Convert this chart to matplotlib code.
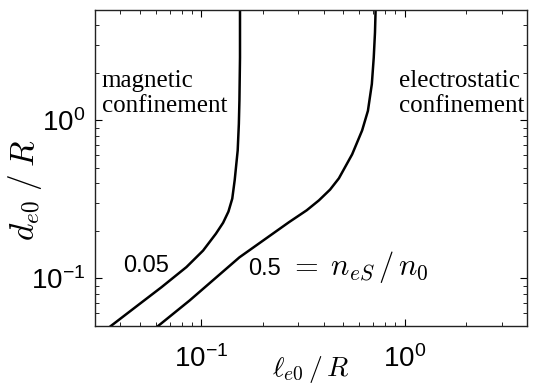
import matplotlib
matplotlib.use('Agg')
import matplotlib.pyplot as plt

# curve n_eS/n0 = 0.05
x_005 = [0.0359, 0.0499, 0.0637, 0.0845, 0.102, 0.118, 0.128, 0.136, 0.142, 0.146,
         0.151, 0.153, 0.154, 0.155, 0.155]
y_005 = [0.05, 0.0692, 0.088, 0.118, 0.150, 0.192, 0.225, 0.265, 0.32, 0.42,
         0.646, 0.95, 1.34, 2.5, 5.0]

# curve n_eS/n0 = 0.5
x_05 = [0.0613, 0.0877, 0.154, 0.270, 0.33, 0.379, 0.43, 0.475, 0.552, 0.618,
        0.660, 0.690, 0.705, 0.715, 0.72]
y_05 = [0.05, 0.0726, 0.136, 0.227, 0.27, 0.312, 0.365, 0.43, 0.61, 0.864,
        1.15, 1.7, 2.5, 3.6, 5.0]

plt.rcParams['font.family'] = ['Liberation Sans', 'DejaVu Sans']
plt.rcParams['mathtext.fontset'] = 'cm'

fig = plt.figure(figsize=(5.34, 3.86), dpi=100)
ax = fig.add_axes([95/534, 1 - 326/386, 432/534, 316/386])

ax.plot(x_005, y_005, color='black', lw=1.8)
ax.plot(x_05, y_05, color='black', lw=1.8)

ax.set_xscale('log')
ax.set_yscale('log')
ax.set_xlim(0.03, 4.0)
ax.set_ylim(0.05, 5.0)

ax.tick_params(which='both', direction='in', top=True, right=True, labelsize=20)
ax.tick_params(which='major', length=5, width=0.8)
ax.tick_params(which='minor', length=3, width=0.6)
ax.tick_params(axis='x', pad=14)
ax.tick_params(axis='y', pad=7)
for s in ax.spines.values():
    s.set_linewidth(1.0)
    s.set_color('#222222')

ax.set_xlabel(r'$\ell_{e0}\,/\,R$', fontsize=20)
ax.set_ylabel(r'$d_{e0}\;/\;R$', fontsize=24)
ax.xaxis.set_label_coords(0.5, -0.09)
ax.yaxis.set_label_coords(-0.118, 0.43)

serif = ['Liberation Serif', 'DejaVu Serif']
ax.text(0.0155, 0.735, 'magnetic\nconfinement', transform=ax.transAxes,
        family=serif, fontsize=18, ha='left', va='center')
ax.text(0.993, 0.735, 'electrostatic\nconfinement', transform=ax.transAxes,
        family=serif, fontsize=18, ha='right', va='center', multialignment='left')

ax.text(0.118, 0.19, '0.05', transform=ax.transAxes, fontsize=17,
        ha='center', va='center')
ax.text(0.354, 0.161, '0.5', transform=ax.transAxes, fontsize=17,
        ha='left', va='baseline')
ax.text(0.45, 0.161, r'$=\;n_{eS}\,/\,n_0$', transform=ax.transAxes, fontsize=22,
        ha='left', va='baseline')

fig.savefig('out.png', dpi=100)
